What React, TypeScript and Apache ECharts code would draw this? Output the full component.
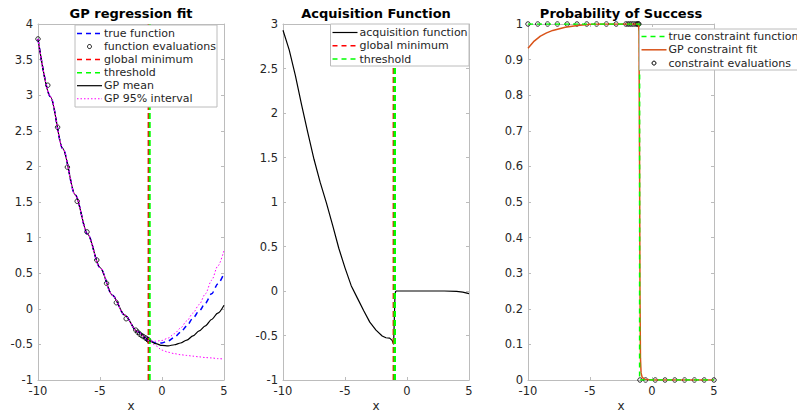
import React, { useEffect, useRef } from "react";
import * as echarts from "echarts";

// ---------- data ----------
const xCurve = [-10, -9, -8, -7, -6, -5, -4, -3, -2, -1, -0.5, 0, 0.5, 1, 1.5, 2, 2.5, 3, 3.5, 4, 4.5, 5];
const trueFn = [3.79, 2.98, 2.25, 1.6, 1.05, 0.58, 0.19, -0.09, -0.32, -0.45, -0.48, -0.48, -0.45, -0.4, -0.33, -0.24, -0.13, -0.03, 0.08, 0.21, 0.35, 0.5];
const gpMean = [3.79, 2.98, 2.25, 1.6, 1.05, 0.58, 0.19, -0.09, -0.32, -0.45, -0.49, -0.515, -0.52, -0.505, -0.48, -0.44, -0.38, -0.31, -0.24, -0.15, -0.06, 0.05];
const gpUpper = [3.79, 2.98, 2.25, 1.6, 1.05, 0.58, 0.19, -0.09, -0.32, -0.45, -0.455, -0.445, -0.41, -0.35, -0.27, -0.17, -0.06, 0.06, 0.21, 0.4, 0.6, 0.82];
const gpLower = [3.79, 2.98, 2.25, 1.6, 1.05, 0.58, 0.19, -0.09, -0.32, -0.45, -0.52, -0.58, -0.61, -0.63, -0.645, -0.655, -0.665, -0.675, -0.685, -0.69, -0.7, -0.705];

const evalX = [-10, -9.21, -8.42, -7.63, -6.84, -6.05, -5.26, -4.47, -3.68, -2.89, -2.11, -1.95, -1.8, -1.65, -1.5, -1.32, -1.2, -1.12, -1.06];
const evalY = [3.79, 3.14, 2.55, 1.99, 1.51, 1.08, 0.685, 0.358, 0.086, -0.139, -0.3, -0.33, -0.355, -0.375, -0.39, -0.41, -0.425, -0.435, -0.445];

const globalMinX = -1.08;
const thresholdX = -0.99;

const acqX = [-10, -9.5, -9, -8.5, -8, -7.5, -7, -6.5, -6, -5.5, -5, -4.5, -4, -3.5, -3, -2.5, -2, -1.7, -1.4, -1.2, -1.08, -1.02, -0.97, -0.92, -0.85, 0, 1, 2, 3, 4, 4.5, 5];
const acqY = [2.93, 2.71, 2.42, 2.09, 1.78, 1.48, 1.22, 0.99, 0.74, 0.48, 0.26, 0.06, -0.08, -0.22, -0.35, -0.44, -0.505, -0.525, -0.53, -0.555, -0.6, -0.3, -0.05, -0.005, 0, 0, 0, 0, 0, -0.005, -0.012, -0.03];

const conTrueX = [-10, -1.0, -1.0, 5];
const conTrueY = [1, 1, 0, 0];

const conFitX = [-10, -9.5, -9, -8.5, -8, -7, -6, -5, -4, -3, -2, -1.1, -1.05, -1.0, -0.97, -0.93, -0.88, -0.8, -0.6, 0, 1, 2, 3, 4, 5];
const conFitY = [0.932, 0.952, 0.966, 0.975, 0.982, 0.991, 0.996, 0.999, 1, 1, 1, 1, 0.98, 0.6, 0.25, 0.06, 0.02, 0.008, 0.002, 0, 0, 0, 0, 0, 0];

const conEvalX = [-10, -9.21, -8.42, -7.63, -6.84, -6.05, -5.26, -4.47, -3.68, -2.89, -2.11, -1.95, -1.8, -1.65, -1.5, -1.32, -1.2, -1.12, -1.06, -0.97, -0.52, 0.26, 1.05, 1.84, 2.63, 3.42, 4.21, 5];
const conEvalY = [1, 1, 1, 1, 1, 1, 1, 1, 1, 1, 1, 1, 1, 1, 1, 1, 1, 1, 1, 0, 0, 0, 0, 0, 0, 0, 0, 0];

const titles = ["GP regression fit", "Acquisition Function", "Probability of Success"];
const legend1 = ["true function", "function evaluations", "global minimum", "threshold", "GP mean", "GP 95% interval"];
const legend2 = ["acquisition function", "global minimum", "threshold"];
const legend3 = ["true constraint function", "GP constraint fit", "constraint evaluations"];

// ---------- styling ----------
const FONT = "DejaVu Sans";
const AXIS = "#bcbcbc";
const TXT = "#262626";
const BLUE = "#0000ff";
const RED = "#ff0000";
const GREEN = "#00ff00";
const MAG = "#ff00ff";
const ORANGE = "#d95319";
const TICK_FS = 11.5;

const zip = (a: number[], b: number[]) => a.map((v, i) => [v, b[i]]);

const grids = [
  { left: 38, top: 24, width: 186, height: 356 },
  { left: 283, top: 24, width: 186, height: 356 },
  { left: 528, top: 24, width: 186, height: 356 },
];

const yRanges = [
  { min: -1, max: 4, interval: 0.5 },
  { min: -1, max: 3, interval: 0.5 },
  { min: 0, max: 1, interval: 0.1 },
];

function buildAxes() {
  const xAxis: any[] = [];
  const yAxis: any[] = [];
  grids.forEach((_, i) => {
    const common = {
      gridIndex: i,
      type: "value",
      splitLine: { show: false },
      axisLine: { show: true, onZero: false, lineStyle: { color: AXIS, width: 1 } },
      axisTick: { show: true, inside: true, length: 3, lineStyle: { color: AXIS } },
    };
    xAxis.push({
      ...common,
      position: "bottom",
      min: -10,
      max: 5,
      interval: 5,
      axisLabel: { show: true, color: TXT, fontSize: TICK_FS, fontFamily: FONT, margin: 5 },
    });
    xAxis.push({
      ...common,
      position: "top",
      min: -10,
      max: 5,
      interval: 5,
      axisLabel: { show: false },
    });
    const yr = yRanges[i];
    yAxis.push({
      ...common,
      position: "left",
      min: yr.min,
      max: yr.max,
      interval: yr.interval,
      axisLabel: {
        show: true,
        color: TXT,
        fontSize: TICK_FS,
        fontFamily: FONT,
        margin: 5,
        formatter: (v: number) => String(Math.round(v * 10) / 10),
      },
    });
    yAxis.push({
      ...common,
      position: "right",
      min: yr.min,
      max: yr.max,
      interval: yr.interval,
      axisLabel: { show: false },
    });
  });
  return { xAxis, yAxis };
}

function lineSeries(idx: number, data: number[][], color: string, width: number, type: any, extra: any = {}) {
  return {
    type: "line",
    xAxisIndex: idx * 2,
    yAxisIndex: idx * 2,
    data,
    showSymbol: false,
    symbol: "none",
    lineStyle: { color, width, type },
    silent: true,
    ...extra,
  };
}

function scatterSeries(idx: number, data: number[][]) {
  return {
    type: "scatter",
    xAxisIndex: idx * 2,
    yAxisIndex: idx * 2,
    data,
    symbol: "circle",
    symbolSize: 4.5,
    itemStyle: { color: "rgba(0,0,0,0)", borderColor: "#000", borderWidth: 1 },
    clip: false,
    silent: true,
  };
}

type LegendRow = { label: string; kind: "line" | "marker"; color?: string; width?: number; dash?: number[] | null };

function legendBox(x: number, y: number, w: number, h: number, rows: LegendRow[], rowY0: number, rowStep: number) {
  const els: any[] = [];
  els.push({
    type: "rect",
    shape: { x, y, width: w, height: h },
    style: { fill: "#fff", stroke: AXIS, lineWidth: 1 },
    z: 100,
  });
  rows.forEach((r, i) => {
    const cy = rowY0 + i * rowStep;
    if (r.kind === "line") {
      els.push({
        type: "line",
        shape: { x1: x + 2, y1: cy, x2: x + 27, y2: cy },
        style: { stroke: r.color, lineWidth: r.width, lineDash: r.dash || null },
        z: 101,
      });
    } else {
      els.push({
        type: "circle",
        shape: { cx: x + 14.5, cy, r: 2 },
        style: { fill: "none", stroke: "#000", lineWidth: 1 },
        z: 101,
      });
    }
    els.push({
      type: "text",
      x: x + 29,
      y: cy,
      style: { text: r.label, fill: TXT, fontSize: 11, fontFamily: FONT, align: "left", verticalAlign: "middle" },
      z: 101,
    });
  });
  return els;
}

export default function App() {
  const ref = useRef<HTMLDivElement>(null);
  useEffect(() => {
    if (!ref.current) return;
    const chart = echarts.init(ref.current, undefined, { renderer: "svg" });
    const { xAxis, yAxis } = buildAxes();
    const smooth = { smooth: 0.3, smoothMonotone: "x" };

    const series: any[] = [
      // plot 1
      lineSeries(0, zip(xCurve, trueFn), BLUE, 1.5, [5, 4], smooth),
      scatterSeries(0, zip(evalX, evalY)),
      lineSeries(0, [[globalMinX, -1], [globalMinX, 4]], RED, 2, [6, 3]),
      lineSeries(0, [[thresholdX, -1], [thresholdX, 4]], GREEN, 2, [6, 3]),
      lineSeries(0, zip(xCurve, gpMean), "#000", 1.2, "solid", smooth),
      lineSeries(0, zip(xCurve, gpUpper), MAG, 1, [1.5, 2], smooth),
      lineSeries(0, zip(xCurve, gpLower), MAG, 1, [1.5, 2], smooth),
      // plot 2
      lineSeries(1, zip(acqX, acqY), "#000", 1.2, "solid"),
      lineSeries(1, [[globalMinX, -1], [globalMinX, 3]], RED, 2, [6, 3]),
      lineSeries(1, [[thresholdX, -1], [thresholdX, 3]], GREEN, 2.5, [6, 3]),
      // plot 3
      lineSeries(2, zip(conFitX, conFitY), ORANGE, 1.5, "solid"),
      lineSeries(2, zip(conTrueX, conTrueY), GREEN, 1.5, [5, 4]),
      scatterSeries(2, zip(conEvalX, conEvalY)),
    ];

    const centers = grids.map((g) => g.left + g.width / 2);
    const graphic: any[] = [];
    titles.forEach((t, i) => {
      graphic.push({
        type: "text",
        x: centers[i],
        y: 13,
        style: { text: t, fill: "#000", fontSize: 13, fontWeight: "bold", fontFamily: FONT, align: "center", verticalAlign: "middle" },
        z: 50,
      });
      graphic.push({
        type: "text",
        x: centers[i],
        y: 406,
        style: { text: "x", fill: TXT, fontSize: 12, fontFamily: FONT, align: "center", verticalAlign: "middle" },
        z: 50,
      });
    });

    graphic.push(
      ...legendBox(
        75, 25, 142, 82,
        [
          { label: legend1[0], kind: "line", color: BLUE, width: 1.5, dash: [5, 4] },
          { label: legend1[1], kind: "marker" },
          { label: legend1[2], kind: "line", color: RED, width: 1.5, dash: [5, 4] },
          { label: legend1[3], kind: "line", color: GREEN, width: 1.5, dash: [5, 4] },
          { label: legend1[4], kind: "line", color: "#000", width: 1.2, dash: null },
          { label: legend1[5], kind: "line", color: MAG, width: 1, dash: [1.5, 2] },
        ],
        33.5, 13.05
      )
    );
    graphic.push(
      ...legendBox(
        330.5, 24, 138.5, 42,
        [
          { label: legend2[0], kind: "line", color: "#000", width: 1.2, dash: null },
          { label: legend2[1], kind: "line", color: RED, width: 1.5, dash: [5, 4] },
          { label: legend2[2], kind: "line", color: GREEN, width: 1.5, dash: [5, 4] },
        ],
        32.5, 13.3
      )
    );
    graphic.push(
      ...legendBox(
        639.5, 29, 175, 41,
        [
          { label: legend3[0], kind: "line", color: GREEN, width: 1.5, dash: [5, 4] },
          { label: legend3[1], kind: "line", color: ORANGE, width: 1.5, dash: null },
          { label: legend3[2], kind: "marker" },
        ],
        36.5, 13.3
      )
    );

    chart.setOption({
      animation: false,
      backgroundColor: "#fff",
      textStyle: { fontFamily: FONT },
      grid: grids.map((g) => ({ ...g, containLabel: false })),
      xAxis,
      yAxis,
      series,
      graphic,
    });
    return () => chart.dispose();
  }, []);
  return (
    <div
      ref={ref}
      style={{ position: "absolute", left: 0, top: 0, width: 797, height: 415, background: "#fff" }}
    />
  );
}
